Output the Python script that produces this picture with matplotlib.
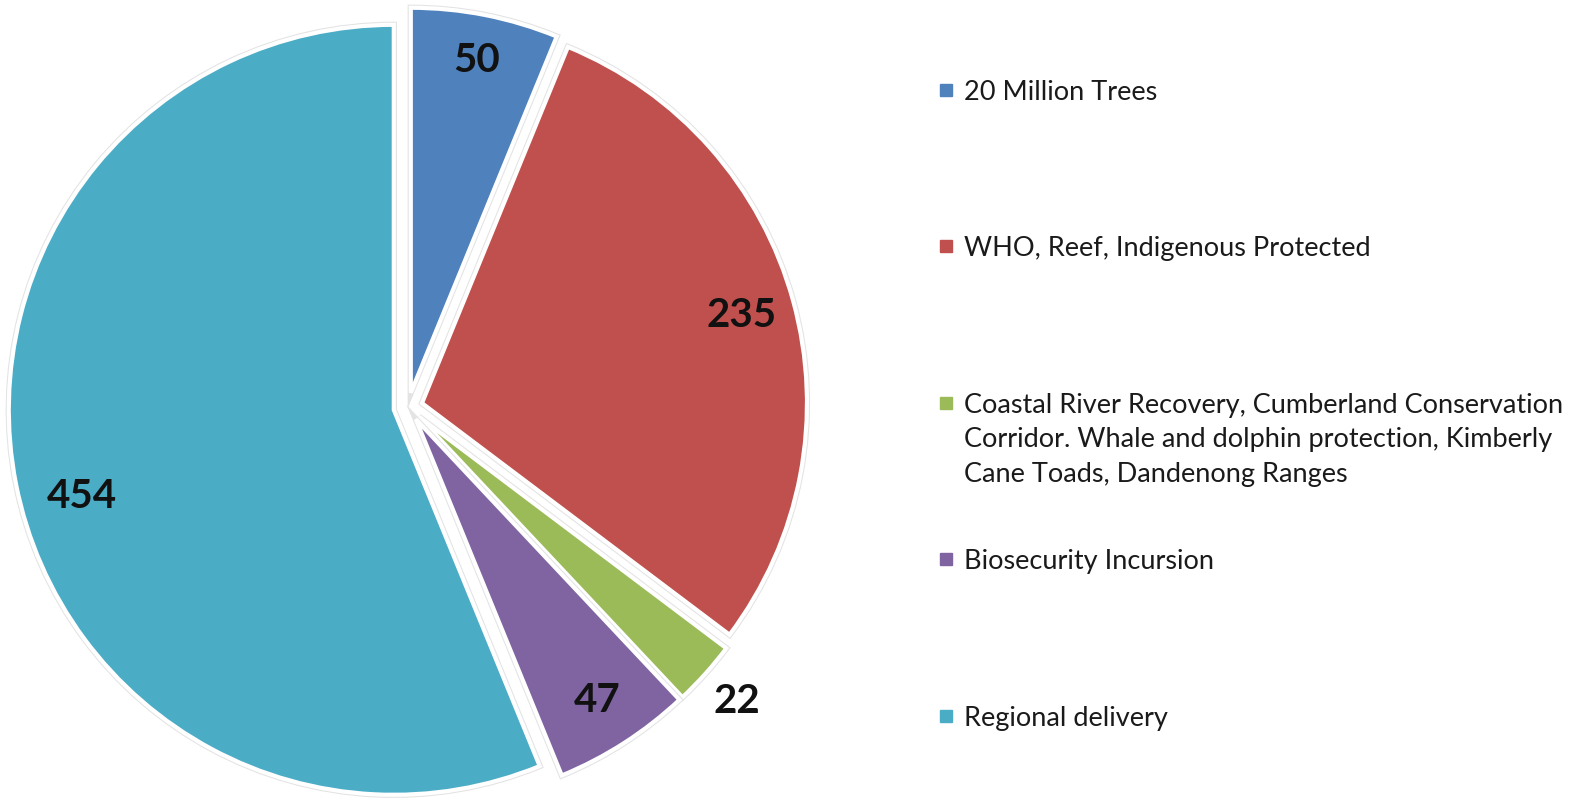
import matplotlib.pyplot as plt
import matplotlib.patheffects as pe
import numpy as np

# data
categories = ['20 Million Trees',
              'WHO, Reef, Indigenous Protected',
              'Coastal River Recovery, Cumberland Conservation\nCorridor. Whale and dolphin protection, Kimberly\nCane Toads, Dandenong Ranges',
              'Biosecurity Incursion',
              'Regional delivery']
values = [50, 235, 22, 47, 454]
colours = ['#4F81BD', '#C0504D', '#9BBB59', '#8064A2', '#4BACC6']

# where each value label sits (fraction of radius, angle shift in degrees)
label_dist = [0.88, 0.86, 1.11, 0.87, 0.84]
label_shift = [0, 0, 0, 0, 4.5]

W, H = 1577, 798
fig = plt.figure(figsize=(W / 100, H / 100), dpi=100)
ax = fig.add_axes([0, 0, 1, 1])

cx, cy, r = 408, H - 407, 385
expl = 14.5  # data units

wedges, _ = ax.pie(values, colors=colours, startangle=90, counterclock=False,
                   explode=[expl] * len(values), center=(cx, cy), radius=r,
                   wedgeprops=dict(edgecolor='white', linewidth=3))
for w in wedges:
    w.set_path_effects([pe.withStroke(linewidth=4.5, foreground='#e3e3e3')])

# value labels near the bisector of each wedge
for w, v, d, s in zip(wedges, values, label_dist, label_shift):
    th = np.deg2rad((w.theta1 + w.theta2) / 2 + s)
    wx, wy = w.center
    ax.text(wx + d * r * np.cos(th), wy + d * r * np.sin(th), str(v),
            ha='center', va='center', fontsize=29, fontweight='bold',
            family='Lato', color='#111111')

# legend
leg_y = [90, 246, 403, 559, 716]
for lab, c, y in zip(categories, colours, leg_y):
    ax.add_patch(plt.Rectangle((940, H - y - 6), 12, 12, color=c))
    ax.text(964, H - y + 10, lab, ha='left', va='top', fontsize=19.5,
            family='Lato', linespacing=1.47, color='#1a1a1a')

ax.set_xlim(0, W)
ax.set_ylim(0, H)
ax.set_aspect('equal')
ax.axis('off')

fig.savefig('out.png', dpi=100)
